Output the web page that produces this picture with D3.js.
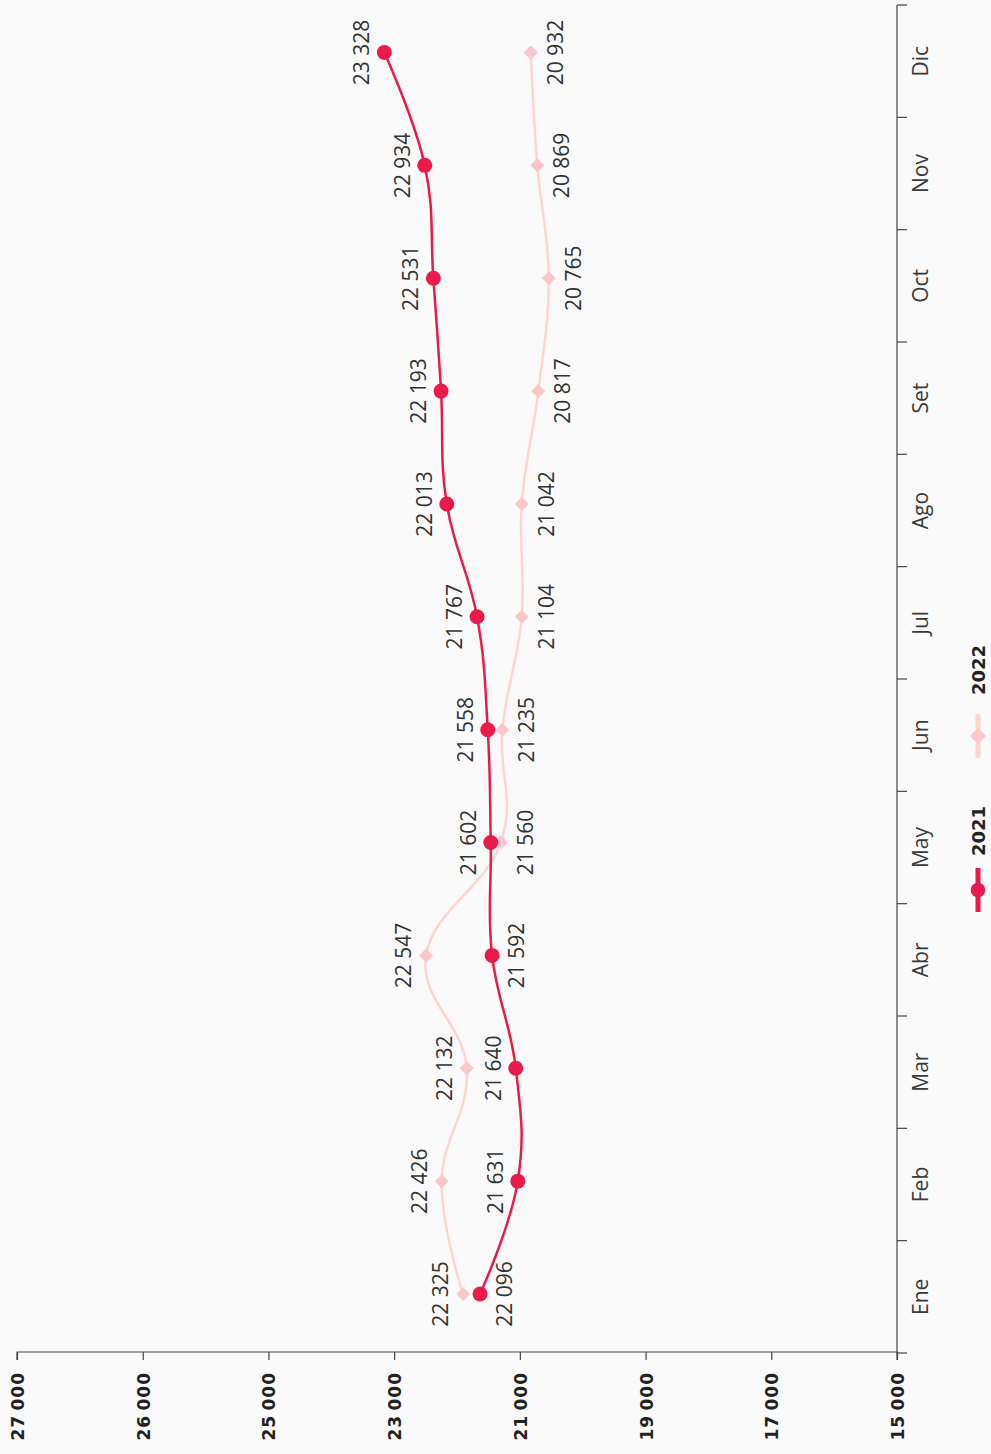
<!DOCTYPE html>
<html>
<head>
<meta charset="utf-8">
<script src="https://cdn.jsdelivr.net/npm/d3@7/dist/d3.min.js"></script>
<style>
  html, body { margin: 0; padding: 0; background: #fafafa; }
  svg { display: block; }
</style>
</head>
<body>
<svg id="chart" width="991" height="1454"></svg>
<script>
// ---------- DATA ----------
const months = ["Ene","Feb","Mar","Abr","May","Jun","Jul","Ago","Set","Oct","Nov","Dic"];
const seriesNames = ["2021","2022"];
const values2021 = [21633, 21033, 21065, 21442, 21463, 21511, 21681, 22163, 22254, 22376, 22513, 23156];
const values2022 = [21904, 22243, 21845, 22492, 21304, 21278, 20970, 20970, 20706, 20540, 20722, 20827];
// printed data labels
const labels2021 = [22096, 21631, 21640, 21592, 21602, 21558, 21767, 22013, 22193, 22531, 22934, 23328];
const labels2022 = [22325, 22426, 22132, 22547, 21560, 21235, 21104, 21042, 20817, 20765, 20869, 20932];
// value axis tick labels
const valueTicks = [27000, 26000, 25000, 23000, 21000, 19000, 17000, 15000];

// label placement (layout, not data): 1 = above the point, -1 = below
const side2021 = [-1, 1, 1, -1, 1, 1, 1, 1, 1, 1, 1, 1];
const side2022 = [1, 1, 1, 1, -1, -1, -1, -1, -1, -1, -1, -1];

// ---------- LAYOUT (chart drawn in landscape then rotated) ----------
const W = 1454, H = 991;
const svg = d3.select("#chart");
svg.append("rect").attr("width", 991).attr("height", 1454).attr("fill", "#fafafa");
const g = svg.append("g").attr("transform", `translate(0,${W}) rotate(-90)`);

const axisX0 = 101, axisX1 = 1449;   // month axis extent
const valTop = 17, valBottom = 897;  // value axis extent
const step = (valBottom - valTop) / (valueTicks.length - 1);

const y = d3.scaleLinear()
  .domain(valueTicks)
  .range(valueTicks.map((d, i) => valTop + i * step));

const band = d3.scaleBand().domain(months).range([axisX0, axisX1]);
const x = d3.scalePoint().domain(months).range([160, 1401.5]);

const fmt = v => d3.format(",")(v).replace(/,/g, " ");
const fmtThin = v => d3.format(",")(v).replace(/,/g, "\u2009");

const C2021 = "#ea1a4b";
const C2022m = "#f9c6ca";
const C2022l = "#fcd5d1";

// ---------- VALUE AXIS ----------
const yAxis = d3.axisLeft(y).tickValues(valueTicks).tickFormat(fmtThin).tickSize(8).tickPadding(12);
const ya = g.append("g").attr("transform", `translate(${axisX0 + 1},0)`).call(yAxis);
ya.select(".domain").attr("stroke", "#444").attr("stroke-width", 1.2).attr("d", `M-8,${valTop}H0V${valBottom}H-8`);
ya.selectAll(".tick line").attr("stroke", "#444").attr("stroke-width", 1.2);
ya.selectAll(".tick text")
  .attr("font-family", "'DejaVu Sans', sans-serif")
  .attr("font-weight", "bold")
  .attr("font-size", 17)
  .attr("letter-spacing", "1px")
  .attr("fill", "#222")
  .attr("dy", "0.38em");

// ---------- MONTH AXIS ----------
const mAxisY = 897;
const ma = g.append("g");
ma.append("line")
  .attr("x1", axisX0).attr("x2", axisX1)
  .attr("y1", mAxisY).attr("y2", mAxisY)
  .attr("stroke", "#444").attr("stroke-width", 1.2);
const bounds = months.map(m => band(m)).concat([band.range()[1]]);
ma.selectAll("line.mt").data(bounds).join("line")
  .attr("class", "mt")
  .attr("x1", d => d).attr("x2", d => d)
  .attr("y1", mAxisY).attr("y2", mAxisY + 10)
  .attr("stroke", "#444").attr("stroke-width", 1.2);
ma.selectAll("text").data(months).join("text")
  .attr("x", d => band(d) + band.bandwidth() / 2)
  .attr("y", 928)
  .attr("text-anchor", "middle")
  .attr("font-family", "'Open Sans', sans-serif")
  .attr("font-size", 21)
  .attr("fill", "#3a3a3a")
  .text(d => d);

// ---------- SERIES ----------
const line = d3.line()
  .x((d, i) => x(months[i]))
  .y(d => y(d))
  .curve(d3.curveCardinal.tension(-0.2));

g.append("path").datum(values2022)
  .attr("d", line).attr("fill", "none")
  .attr("stroke", C2022l).attr("stroke-width", 2.5);

g.append("path").datum(values2021)
  .attr("d", line).attr("fill", "none")
  .attr("stroke", C2021).attr("stroke-width", 2.5);

const diamond = d3.symbol(d3.symbolSquare, 98);
g.selectAll("path.m22").data(values2022).join("path")
  .attr("class", "m22")
  .attr("d", diamond)
  .attr("transform", (d, i) => `translate(${x(months[i])},${y(d)}) rotate(45)`)
  .attr("fill", C2022m);

g.selectAll("circle.m21").data(values2021).join("circle")
  .attr("class", "m21")
  .attr("cx", (d, i) => x(months[i]))
  .attr("cy", d => y(d))
  .attr("r", 7.5)
  .attr("fill", C2021);

// ---------- DATA LABELS ----------
function drawLabels(vals, labels, sides, cls) {
  g.selectAll("text." + cls).data(vals).join("text")
    .attr("class", cls)
    .attr("x", (d, i) => x(months[i]))
    .attr("y", (d, i) => sides[i] > 0 ? y(d) - 15 : y(d) + 32)
    .attr("text-anchor", "middle")
    .attr("font-family", "'Open Sans', sans-serif")
    .attr("font-size", 21)
    .attr("fill", "#333")
    .text((d, i) => fmt(labels[i]));
}
drawLabels(values2021, labels2021, side2021, "l21");
drawLabels(values2022, labels2022, side2022, "l22");

// ---------- LEGEND ----------
const legY = 978;
const leg = g.append("g");
const legItems = [
  { name: seriesNames[0], x0: 542, color: C2021, type: "circle" },
  { name: seriesNames[1], x0: 696, color: C2022m, type: "diamond" }
];
legItems.forEach(it => {
  leg.append("line")
    .attr("x1", it.x0).attr("x2", it.x0 + 44)
    .attr("y1", legY).attr("y2", legY)
    .attr("stroke", it.type === "circle" ? it.color : C2022l)
    .attr("stroke-width", 5);
  if (it.type === "circle") {
    leg.append("circle").attr("cx", it.x0 + 22).attr("cy", legY).attr("r", 7.3).attr("fill", it.color);
  } else {
    leg.append("path").attr("d", d3.symbol(d3.symbolSquare, 128))
      .attr("transform", `translate(${it.x0 + 22},${legY}) rotate(45)`)
      .attr("fill", it.color);
  }
  leg.append("text")
    .attr("x", it.x0 + (it.type === "circle" ? 56 : 63))
    .attr("y", legY + 7)
    .attr("font-family", "'DejaVu Sans', sans-serif")
    .attr("font-weight", "bold")
    .attr("font-size", 18)
    .attr("fill", "#222")
    .text(it.name);
});
</script>
</body>
</html>
